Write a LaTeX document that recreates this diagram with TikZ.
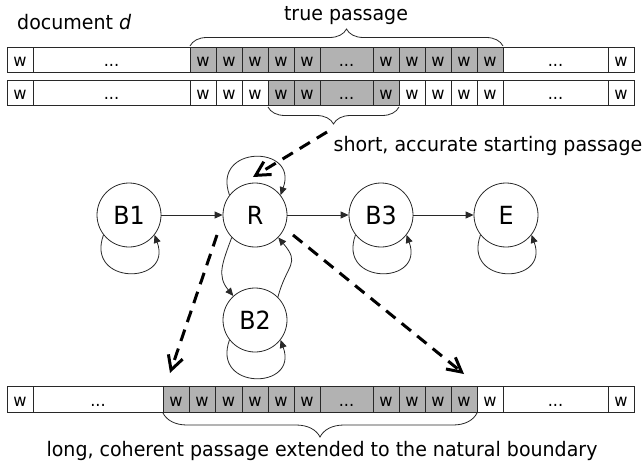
\documentclass[tikz,border=0pt]{standalone}
\usepackage{fontspec}
\setmainfont{DejaVu Sans}[FakeStretch=0.95]
\usetikzlibrary{arrows.meta,decorations.pathreplacing}
\definecolor{cellgray}{RGB}{178,178,178}
\definecolor{ink}{RGB}{40,40,40}
\newcommand{\gapdots}{...}

\begin{document}
\begin{tikzpicture}[x=1pt,y=1pt,
  cell/.style={draw=ink, line width=0.9pt, minimum height=25pt, inner sep=0pt,
    outer sep=0pt, text height=15pt, text depth=0pt, font=\fontsize{17}{17}\selectfont},
  state/.style={circle, draw=ink, line width=0.8pt, minimum size=64pt, inner sep=0pt,
    font=\fontsize{25}{25}\selectfont},
  trans/.style={draw=ink, line width=0.8pt, -{Triangle[length=8pt,width=7pt]}},
  hint/.style={draw=black, line width=3pt, dash pattern=on 12pt off 8pt,
    -{Straight Barb[length=14pt,width=15pt]}},
  caption/.style={font=\fontsize{20}{20}\selectfont, inner sep=0pt, anchor=base},
  curly/.style={draw=ink, line width=0.8pt, decorate, decoration={brace, amplitude=#1}}
]
\useasboundingbox (0,0) rectangle (644,-465);

% word rows of the document
\foreach \a/\b/\t/\f [count=\i] in {
  7/33/w/white, 33/190/\gapdots/white,
  190/216/w/cellgray, 216/242/w/cellgray, 242/268/w/cellgray, 268/294/w/cellgray, 294/320/w/cellgray,
  320/373/\gapdots/cellgray,
  373/399/w/cellgray, 399/425/w/cellgray, 425/451/w/cellgray, 451/477/w/cellgray, 477/503/w/cellgray,
  503/608/\gapdots/white, 608/634/w/white}
  \node[cell, fill=\f, minimum width={(\b-\a)*1pt}] (A\i) at ({(\a+\b)/2}, -59.5) {\t};

\foreach \a/\b/\t/\f [count=\i] in {
  7/33/w/white, 33/190/\gapdots/white,
  190/216/w/white, 216/242/w/white, 242/268/w/white, 268/294/w/cellgray, 294/320/w/cellgray,
  320/373/\gapdots/cellgray,
  373/399/w/cellgray, 399/425/w/white, 425/451/w/white, 451/477/w/white, 477/503/w/white,
  503/608/\gapdots/white, 608/634/w/white}
  \node[cell, fill=\f, minimum width={(\b-\a)*1pt}] (B\i) at ({(\a+\b)/2}, -92.5) {\t};

\foreach \a/\b/\t/\f [count=\i] in {
  7/33/w/white, 33/163/\gapdots/white,
  163/189/w/cellgray, 189/215/w/cellgray, 215/242/w/cellgray, 242/268/w/cellgray, 268/294/w/cellgray, 294/320/w/cellgray,
  320/373/\gapdots/cellgray,
  373/399/w/cellgray, 399/425/w/cellgray, 425/451/w/cellgray, 451/477/w/cellgray,
  477/503/w/white, 503/608/\gapdots/white, 608/634/w/white}
  \node[cell, fill=\f, minimum width={(\b-\a)*1pt}, minimum height=26pt] (C\i) at ({(\a+\b)/2}, -399) {\t};

% braces
\draw[curly=17pt] ([yshift=1pt]A3.north west) -- ([yshift=1pt]A13.north east);
\draw[curly=17pt] ([yshift=-2pt]B9.south east) -- ([yshift=-2pt]B6.south west);
\draw[curly=24pt] ([yshift=-1pt]C13.south east) -- ([yshift=-1pt]C3.south west);

% captions
\node[caption, anchor=base west] (doc) at (17,-30) {document \textit{d}};
\node[caption] (truep) at (346,-20.5) {true passage};
\node[caption] (shortp) at (488,-151) {short, accurate starting passage};
\node[caption] (longp) at (322,-456) {long, coherent passage extended to the natural boundary};

% states
\node[state] (B1) at (129,-215) {B1};
\node[state] (R)  at (255,-215) {R};
\node[state] (B3) at (381,-215) {B3};
\node[state] (E)  at (506,-215) {E};
\node[state] (B2) at (255,-320) {B2};

% transitions
\draw[trans] (B1) -- (R);
\draw[trans] (R) -- (B3);
\draw[trans] (B3) -- (E);
\draw[trans] (R.224) to[out=250, in=130, looseness=1.15] (B2.132);
\draw[trans] (B2.45) to[out=75, in=-50, looseness=1.5] (R.-44);
\foreach \s in {B1, B2, B3, E}
  \draw[trans] (\s.218) to[out=250, in=290, looseness=2.7] (\s.322);
\draw[trans] (R.142) to[out=110, in=70, looseness=2.7] (R.38);

% hints from the passages to the states
\coordinate (h1s) at (327,-132);
\coordinate (h1e) at (253,-177);
\coordinate (h2s) at (293,-235);
\coordinate (h2e) at (464,-374);
\coordinate (h3s) at (217,-235);
\coordinate (h3e) at (170,-373);
\draw[hint] (h1s) -- (h1e);
\draw[hint] (h2s) -- (h2e);
\draw[hint] (h3s) -- (h3e);
\end{tikzpicture}
\end{document}
